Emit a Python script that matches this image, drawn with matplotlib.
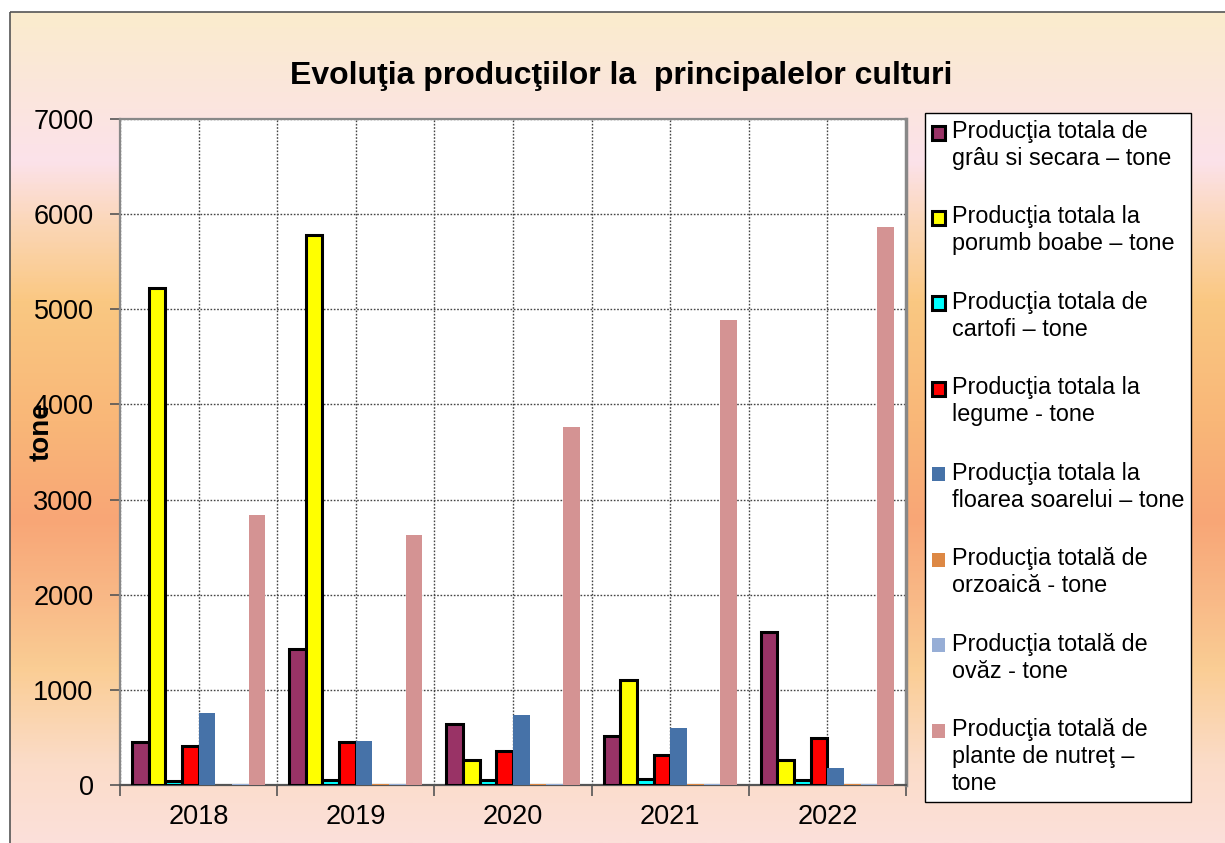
import numpy as np
import matplotlib
matplotlib.use("Agg")
import matplotlib.pyplot as plt
from matplotlib.colors import LinearSegmentedColormap
from matplotlib.patches import Rectangle
from matplotlib.legend_handler import HandlerPatch

plt.rcParams['font.family'] = ['Liberation Sans', 'DejaVu Sans']

years = ["2018", "2019", "2020", "2021", "2022"]
series_names = [
    "Producţia totala de\ngrâu si secara – tone",
    "Producţia totala la\nporumb boabe – tone",
    "Producţia totala de\ncartofi – tone",
    "Producţia totala la\nlegume - tone",
    "Producţia totala la\nfloarea soarelui – tone",
    "Producţia totală de\norzoaică - tone",
    "Producţia totală de\novăz - tone",
    "Producţia totală de\nplante de nutreţ –\ntone",
]
grau = [450, 1430, 640, 512, 1606]
porumb = [5220, 5783, 260, 1100, 260]
cartofi = [38, 50, 50, 63, 50]
legume = [410, 449, 357, 315, 497]
floarea = [754, 463, 733, 603, 182]
orzoaica = [0, 15, 15, 12, 12]
ovaz = [15, 12, 10, 8, 8]
nutret = [2840, 2629, 3764, 4890, 5868]
values = [grau, porumb, cartofi, legume, floarea, orzoaica, ovaz, nutret]
colors = ["#993366", "#FFFF00", "#00FFFF", "#FF0000", "#4672A8", "#DD8844", "#97AED6", "#D49393"]
edged = [True, True, True, True, False, False, False, False]
yticks = [0, 1000, 2000, 3000, 4000, 5000, 6000, 7000]

W, H = 1225, 843
fig = plt.figure(figsize=(W / 100, H / 100), dpi=100)
fig.patch.set_facecolor("white")

# background gradient
bg = fig.add_axes([0, 0, 1, 1], zorder=-10)
bg.set_xlim(0, W)
bg.set_ylim(H, 0)
bg.axis("off")
stops = [(12, (250, 236, 205)), (90, (251, 230, 220)), (160, (252, 226, 234)),
         (220, (251, 215, 185)), (300, (250, 200, 130)), (420, (249, 183, 120)),
         (520, (248, 166, 118)), (600, (249, 185, 135)), (670, (250, 205, 148)),
         (765, (251, 220, 200)), (843, (252, 224, 218))]
pos = [(s[0] - 12) / (843 - 12) for s in stops]
cmap = LinearSegmentedColormap.from_list("bgc", [(p, tuple(c / 255 for c in s[1])) for p, s in zip(pos, stops)])
grad = np.linspace(0, 1, 400).reshape(-1, 1)
bg.imshow(grad, cmap=cmap, aspect="auto", extent=[10, W, H, 12])
bg.add_patch(Rectangle((10, 12), W, H, fill=False, edgecolor="#555555", lw=1.2))

ax = fig.add_axes([120 / W, 1 - 785 / H, (906 - 120) / W, (785 - 119) / H])
ax.set_facecolor("white")
x = np.arange(len(years))
bw = 0.106
handles = []
for i, (vals, col, e) in enumerate(zip(values, colors, edged)):
    off = (i - 3.5) * bw
    if e:
        b = ax.bar(x + off, vals, bw, color=col, edgecolor="black", linewidth=2.2, zorder=3, label=series_names[i])
    else:
        b = ax.bar(x + off, vals, bw, color=col, edgecolor="none", linewidth=0, zorder=3, label=series_names[i])
    handles.append(b.patches[0])

ax.set_xlim(-0.5, 4.5)
ax.set_ylim(0, 7000)
ax.set_yticks(yticks)
ax.set_yticklabels([str(v) for v in yticks], fontsize=19.5)
ax.tick_params(axis="y", length=7, width=1.2, color="#555555", pad=12)
ax.set_xticks([-0.5, 0.5, 1.5, 2.5, 3.5, 4.5])
ax.set_xticklabels([])
ax.set_xticks(x, minor=True)
ax.set_xticklabels(years, minor=True, fontsize=19.5)
ax.tick_params(axis="x", which="major", length=8, width=1.2, color="#555555")
ax.tick_params(axis="x", which="minor", length=0, pad=14)
ax.grid(True, which="both", axis="x", linestyle=(0, (1.2, 1.2)), color="#444444", lw=1.0, zorder=1)
ax.grid(True, which="major", axis="y", linestyle=(0, (1.2, 1.2)), color="#444444", lw=1.0, zorder=1)
for s in ["left", "top", "right"]:
    ax.spines[s].set_color("#888888")
    ax.spines[s].set_linewidth(1.6)
ax.spines["bottom"].set_color("#555555")
ax.spines["bottom"].set_linewidth(1.6)
ax.spines["right"].set_linewidth(2.5)

fig.text(42 / W, 1 - 432 / H, "tone", rotation=90, ha="center", va="center", fontsize=20, weight="bold")
fig.text(621 / W, 1 - 76 / H, "Evoluţia producţiilor la  principalelor culturi",
         ha="center", va="center", fontsize=23, weight="bold")

LEG_FS = 16.8
LSP = 1.22
pitch = 19.0  # points between text lines in the legend


def make_handler(nlines):
    shift = (nlines - 1) * pitch / 2.0

    def pf(legend, orig_handle, xdescent, ydescent, width, height, fontsize):
        return Rectangle((-xdescent, -ydescent + shift), width, height)
    return HandlerPatch(patch_func=pf)


hmap = {}
for h, name in zip(handles, series_names):
    hmap[h] = make_handler(name.count("\n") + 1)

leg = fig.legend(handles=handles, labels=series_names, loc="upper left",
                 bbox_to_anchor=(925 / W, 1 - 113 / H),
                 fontsize=LEG_FS, frameon=True, fancybox=False, edgecolor="black", framealpha=1.0,
                 handlelength=0.55, handleheight=0.55, handletextpad=0.3,
                 labelspacing=1.52, borderpad=0.3, borderaxespad=0, handler_map=hmap)
leg.get_frame().set_linewidth(1.0)
leg.get_frame().set_facecolor("white")
for t in leg.get_texts():
    t.set_linespacing(LSP)

fig.savefig("out.png", dpi=100)
